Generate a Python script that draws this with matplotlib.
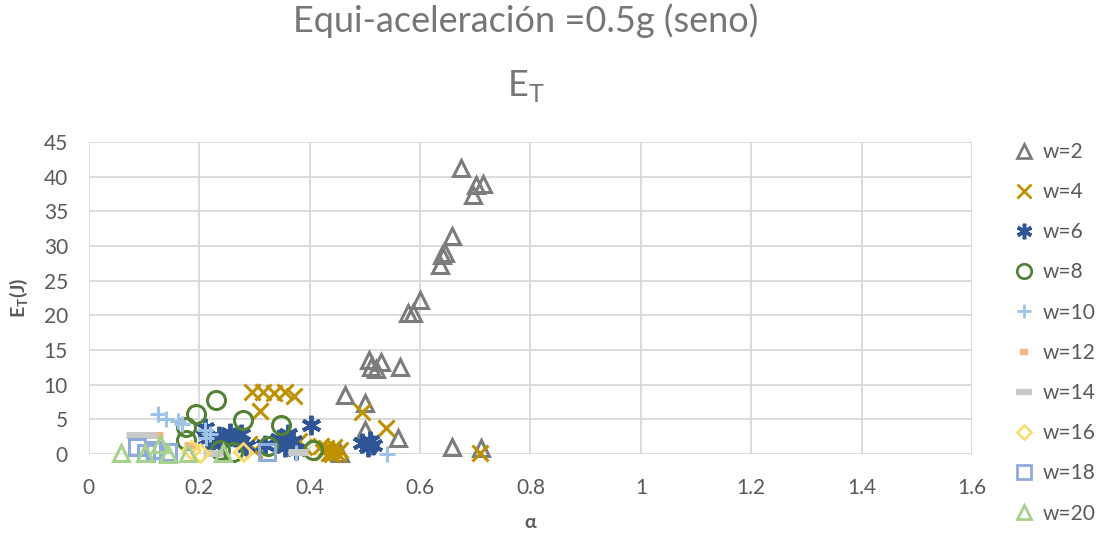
import matplotlib.pyplot as plt
from matplotlib.lines import Line2D

plt.rcParams['font.family'] = ['Lato', 'DejaVu Sans']

# alpha / E_T(J) for each frequency w
w2_a = [0.675, 0.702, 0.714, 0.696, 0.657, 0.639, 0.645, 0.636, 0.600, 0.578, 0.588,
        0.507, 0.512, 0.520, 0.530, 0.563, 0.464, 0.500, 0.500, 0.560, 0.657, 0.711, 0.455]
w2_E = [41.2, 38.8, 39.0, 37.4, 31.4, 28.7, 29.0, 27.3, 22.2, 20.3, 20.3,
        13.5, 12.5, 12.2, 13.3, 12.6, 8.5, 7.3, 3.5, 2.3, 1.05, 0.8, 0.1]

w4_a = [0.295, 0.315, 0.335, 0.355, 0.372, 0.310, 0.494, 0.539, 0.708,
        0.290, 0.300, 0.380, 0.390, 0.420, 0.425, 0.430, 0.435, 0.440, 0.445, 0.450, 0.455, 0.440]
w4_E = [9.0, 8.9, 8.8, 8.9, 8.4, 6.2, 6.1, 3.7, 0.1,
        1.5, 0.5, 1.8, 1.0, 1.2, 0.3, 0.8, 0.1, 0.5, 1.0, 0.2, 0.6, 0.0]

w6_a = [0.210, 0.215, 0.225, 0.235, 0.245, 0.255, 0.265, 0.275, 0.285, 0.320,
        0.345, 0.355, 0.360, 0.370, 0.375, 0.403, 0.495, 0.505, 0.510, 0.515]
w6_E = [3.8, 2.2, 1.5, 2.6, 2.0, 3.0, 2.4, 2.8, 1.2, 1.3,
        2.2, 1.0, 2.8, 1.8, 0.6, 4.2, 1.6, 1.0, 1.8, 1.3]

w8_a = [0.231, 0.195, 0.177, 0.280, 0.349, 0.177, 0.406, 0.262, 0.325, 0.237]
w8_E = [7.8, 5.7, 3.9, 4.9, 4.2, 2.0, 0.6, 0.3, 1.1, 0.5]

w10_a = [0.126, 0.140, 0.162, 0.168, 0.210, 0.213, 0.220, 0.540, 0.375]
w10_E = [5.8, 5.1, 4.7, 4.3, 3.5, 2.3, 2.8, 0.0, 0.2]

w12_a = [0.123, 0.183]
w12_E = [2.7, 1.3]

w14_a = [0.085, 0.105, 0.225, 0.379]
w14_E = [2.7, 2.7, 0.1, 0.3]

w16_a = [0.185, 0.201, 0.280]
w16_E = [0.5, 0.1, 0.3]

w18_a = [0.087, 0.104, 0.120, 0.144, 0.322]
w18_E = [1.0, 0.1, 0.6, 0.3, 0.3]

w20_a = [0.059, 0.101, 0.129, 0.144, 0.180, 0.243]
w20_E = [0.1, 0.1, 1.5, 0.0, 0.1, 0.1]

labels = ['w=2', 'w=4', 'w=6', 'w=8', 'w=10', 'w=12', 'w=14', 'w=16', 'w=18', 'w=20']
xs = [w2_a, w4_a, w6_a, w8_a, w10_a, w12_a, w14_a, w16_a, w18_a, w20_a]
ys = [w2_E, w4_E, w6_E, w8_E, w10_E, w12_E, w14_E, w16_E, w18_E, w20_E]

colors = ['#7C7C7C', '#BF9000', '#2F5597', '#548235', '#9DC3E6',
          '#F4B183', '#C9C9C9', '#FFD966', '#8FAADC', '#A9D18E']
markers = ['^', 'x', (6, 2, 0), 'o', '+', '_', '_', 'D', 's', '^']
msizes = [12, 12, 14, 13, 12, 8, 14, 9, 12, 12]
mew = [2.2, 2.2, 2.8, 2.2, 2.2, 5, 5, 2.0, 2.2, 2.2]
filled = [False, True, True, False, True, True, True, False, False, False]

fig = plt.figure(figsize=(10.96, 5.34), dpi=100)
ax = fig.add_axes([0.081, 0.15, 0.806, 0.584])

handles = []
for i in range(len(labels)):
    face = colors[i] if filled[i] else 'none'
    ax.plot(xs[i], ys[i], linestyle='none', marker=markers[i], markersize=msizes[i],
            markeredgewidth=mew[i], markeredgecolor=colors[i], markerfacecolor=face,
            clip_on=False, zorder=3)
    handles.append(Line2D([], [], linestyle='none', marker=markers[i],
                          markersize=msizes[i] * 0.8, markeredgewidth=mew[i] * 0.9,
                          markeredgecolor=colors[i], markerfacecolor=face))

ax.set_xlim(0, 1.6)
ax.set_ylim(0, 45)
ax.set_xticks([0, 0.2, 0.4, 0.6, 0.8, 1, 1.2, 1.4, 1.6])
ax.set_xticklabels(['0', '0.2', '0.4', '0.6', '0.8', '1', '1.2', '1.4', '1.6'])
ax.set_yticks(range(0, 46, 5))
ax.grid(True, color='#D9D9D9', linewidth=1.3)
ax.set_axisbelow(True)
for s in ax.spines.values():
    s.set_visible(False)
ax.tick_params(length=0, labelsize=15, colors='#595959')
ax.tick_params(axis='x', pad=17)
ax.tick_params(axis='y', pad=15)

ax.set_xlabel('α', fontsize=14, fontweight='bold', color='#595959', labelpad=12)
ax.set_ylabel('E$_\\mathregular{T}$(J)', fontsize=14, fontweight='bold', color='#595959', labelpad=10)

fig.text(0.48, 0.94, 'Equi-aceleración =0.5g (seno)', ha='center', va='baseline',
         fontsize=26, color='#767676')
fig.text(0.48, 0.82, 'E$_\\mathregular{T}$', ha='center', va='baseline',
         fontsize=26, color='#767676')

fig.legend(handles, labels, loc='upper left', bbox_to_anchor=(0.915, 0.75),
           frameon=False, fontsize=15, labelspacing=0.97, handletextpad=0.3,
           handlelength=1.2, labelcolor='#595959', borderaxespad=0)

fig.savefig('out.png', dpi=100)
